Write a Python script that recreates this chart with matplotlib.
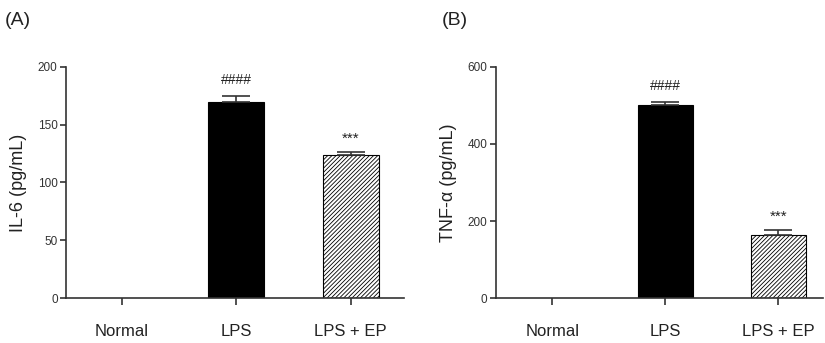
import numpy as np
import matplotlib.pyplot as plt

plt.rcParams['font.family'] = ['Liberation Sans', 'DejaVu Sans']

groups = ['Normal', 'LPS', 'LPS + EP']
il6 = [0, 170, 123.5]
il6_err = [0, 5, 3]
tnf = [0, 500, 164]
tnf_err = [0, 10, 13]
il6_marks = ['', '####', '***']
tnf_marks = ['', '####', '***']

fig = plt.figure(figsize=(8.25, 3.43), dpi=100)
ax1 = fig.add_axes([0.080, 0.131, 0.410, 0.674])
ax2 = fig.add_axes([0.601, 0.131, 0.396, 0.674])

edge = '#333333'


def draw_panel(ax, vals, errs, marks, ymax, yticks, ylabel, offs, xlim):
    x = np.arange(len(groups))
    colors = ['white', 'black', 'white']
    hatches = ['', '', '////////']
    for i in x:
        if vals[i] == 0:
            continue
        ax.bar(i, vals[i], width=0.49, color=colors[i], edgecolor='black',
               hatch=hatches[i], linewidth=0.8, zorder=2)
        ax.errorbar(i, vals[i], yerr=[[0], [errs[i]]], fmt='none',
                    ecolor=edge, elinewidth=1.2, capsize=10, capthick=1.2,
                    zorder=3)
        if marks[i]:
            fs = 10 if marks[i].startswith('#') else 11
            ax.text(i, vals[i] + errs[i] + offs[i], marks[i], ha='center',
                    va='center', fontsize=fs, color='#222222')
    ax.set_xlim(*xlim)
    ax.set_ylim(0, ymax)
    ax.set_yticks(yticks)
    ax.set_xticks(x)
    ax.set_xticklabels(groups, fontsize=12, color='#222222')
    ax.tick_params(axis='x', length=5, width=1.2, color=edge, pad=14)
    ax.tick_params(axis='y', length=4, width=1.2, color=edge, labelsize=8.5,
                   labelcolor='#333333', pad=2)
    ax.set_ylabel(ylabel, fontsize=13, color='#222222', labelpad=8)
    for s in ['top', 'right']:
        ax.spines[s].set_visible(False)
    for s in ['left', 'bottom']:
        ax.spines[s].set_linewidth(1.2)
        ax.spines[s].set_color(edge)


plt.rcParams['hatch.linewidth'] = 0.6
draw_panel(ax1, il6, il6_err, il6_marks, 200, [0, 50, 100, 150, 200],
           'IL-6 (pg/mL)', [0, 14, 11], (-0.49, 2.47))
draw_panel(ax2, tnf, tnf_err, tnf_marks, 600, [0, 200, 400, 600],
           'TNF-α (pg/mL)', [0, 40, 34], (-0.5, 2.39))

fig.text(0.006, 0.94, '(A)', fontsize=14, color='#222222', va='center')
fig.text(0.535, 0.94, '(B)', fontsize=14, color='#222222', va='center')

fig.savefig('out.png', dpi=100)
